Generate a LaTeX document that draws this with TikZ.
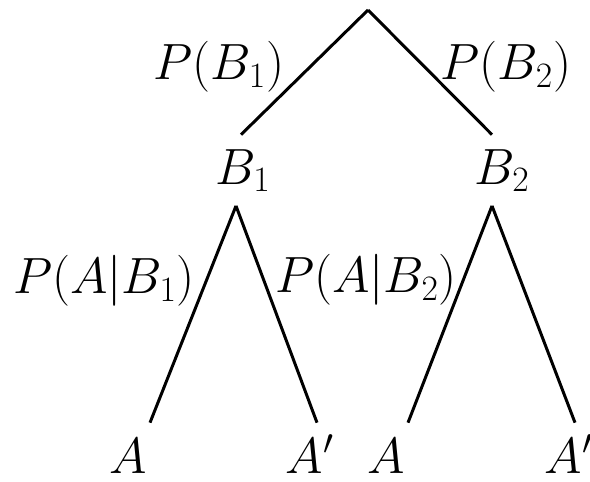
\RequirePackage{fix-cm}
\documentclass[tikz,border=0pt]{standalone}
\usepackage{amsmath}
\usetikzlibrary{positioning}

\begin{document}
\begin{tikzpicture}[x=0.02cm, y=-0.02cm, font=\fontsize{29}{35}\selectfont,
  branch/.style={line width=1.7pt},
  event/.style={anchor=base, text height=0.7cm, text depth=0.15cm, inner sep=0.28cm},
  leaf/.style={anchor=base, text height=0.72cm, text depth=0cm, inner sep=0cm}]
\useasboundingbox (0,0) rectangle (590,481);
% Root and first level
\coordinate (root) at (368,10);
\node[event] (b1) at (243,184) {$B_1$};
\node[event] (b2) at (502,184) {$B_2$};
\draw[branch] (root) -- ([xshift=-0.04cm]b1.north);
\draw[branch] (root) -- ([xshift=-0.2cm]b2.north);
\node (pb1) at (219,67) {$P(B_1)$};
\node (pb2) at (506,67) {$P(B_2)$};

% Second level
\node[leaf] (a1) at (128,473) {$A$};
\node[leaf] (a1c) at (310,473) {$A'$};
\node[leaf] (a2) at (386,473) {$A$};
\node[leaf] (a2c) at (569,473) {$A'$};
\draw[branch] ([xshift=-0.14cm]b1.south) -- ([xshift=0.44cm, yshift=0.28cm]a1.north);
\draw[branch] ([xshift=-0.14cm]b1.south) -- ([xshift=0.14cm, yshift=0.28cm]a1c.north);
\draw[branch] ([xshift=-0.2cm]b2.south) -- ([xshift=0.44cm, yshift=0.28cm]a2.north);
\draw[branch] ([xshift=-0.2cm]b2.south) -- ([xshift=0.12cm, yshift=0.28cm]a2c.north);
\node (pab1) at (104,281) {$P(A|B_1)$};
\node (pab2) at (366,280) {$P(A|B_2)$};
\end{tikzpicture}
\end{document}
